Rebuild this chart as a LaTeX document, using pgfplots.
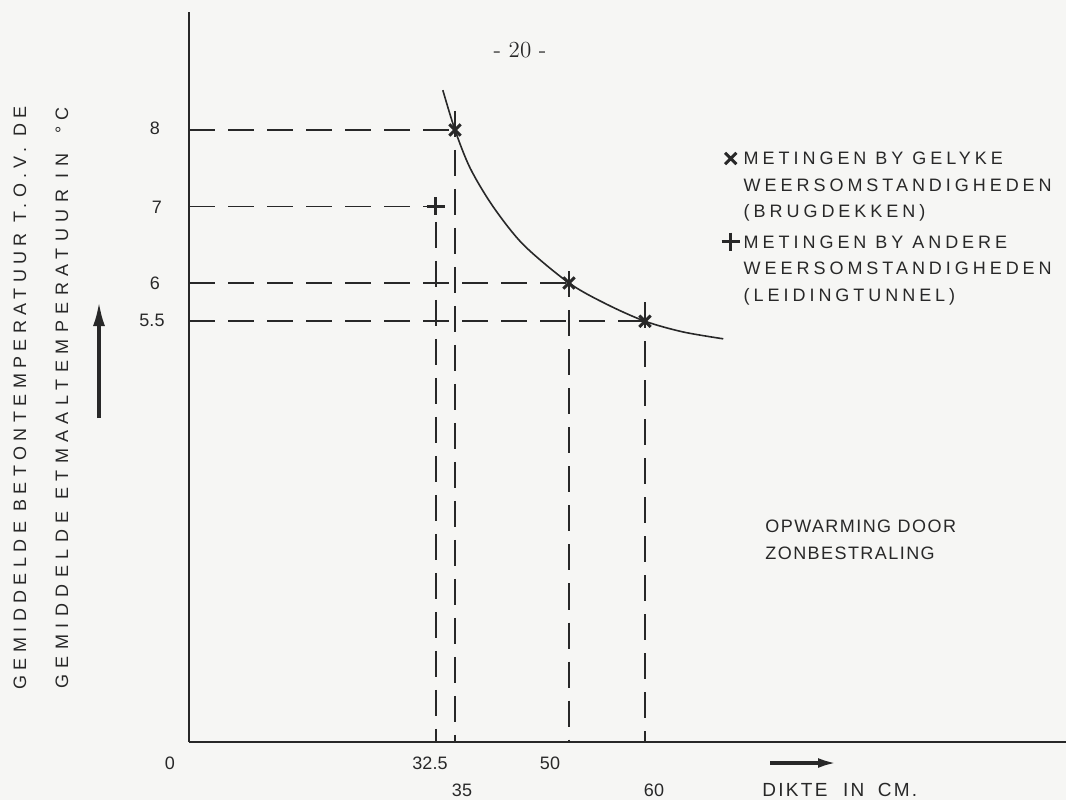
\documentclass[border=0pt]{standalone}
\usepackage{fontspec}
\usepackage{pgfplots}
\pgfplotsset{compat=1.18}
\usetikzlibrary{arrows.meta}
\newfontfamily\sansf{Liberation Sans}
\newfontfamily\labf[LetterSpace=30]{Liberation Sans}
\newfontfamily\labg[LetterSpace=36]{Liberation Sans}
\newfontfamily\legf[LetterSpace=22]{Liberation Sans}
\newfontfamily\notef[LetterSpace=8]{Liberation Sans}
\newfontfamily\dikf[LetterSpace=12]{Liberation Sans}
\definecolor{ink}{RGB}{40,40,40}
\definecolor{paper}{RGB}{246,246,244}
\begin{document}
\begin{tikzpicture}
\fill[paper] (0pt,0pt) rectangle (533pt,400pt);
\path[use as bounding box] (0pt,0pt) rectangle (533pt,400pt);
\begin{axis}[
  at={(94.5pt,29pt)}, anchor=south west,
  scale only axis, width=438.5pt, height=365pt,
  xmin=0, xmax=115.4, ymin=0, ymax=9.542,
  axis x line=bottom, axis y line=left,
  axis line style={-, line width=0.9pt, ink},
  xtick=\empty, ytick=\empty, clip=false,
  legend style={at={(0.607,0.822)}, anchor=north west, draw=none, fill=none,
    font={\legf\fontsize{9}{13.25}\selectfont}, text=ink, row sep=0.3pt,
    cells={anchor=base west}, inner sep=0pt},
  legend image post style={yshift=29.7pt},
  dl/.style={ink, line width=0.8pt, dash pattern=on 13pt off 6.5pt},
]
\addplot[dl, forget plot] coordinates {(0,8) (35,8)};
\addplot[dl, forget plot] coordinates {(0,7) (31.8,7)};
\addplot[dl, forget plot] coordinates {(0,6) (50,6)};
\addplot[dl, forget plot] coordinates {(0,5.5) (60,5.5)};
\addplot[dl, forget plot] coordinates {(32.5,6.8) (32.5,0)};
\addplot[dl, forget plot] coordinates {(35,8.25) (35,0)};
\addplot[dl, forget plot] coordinates {(50,6.15) (50,0)};
\addplot[dl, forget plot] coordinates {(60,5.75) (60,0)};
\addplot[ink, line width=0.8pt, smooth, forget plot] coordinates {
 (33.4,8.52) (35,8.0) (37,7.5) (40,7.0) (44,6.5) (50,6.0) (55,5.72) (60,5.5) (65,5.36) (70.3,5.27)};
\addplot[only marks, mark=x, mark size=4pt, ink, line width=1.5pt] coordinates {(35,8) (50,6) (60,5.5)};
\addlegendentry{\begin{tabular}[b]{@{}l@{}}METINGEN BY GELYKE\\WEERSOMSTANDIGHEDEN\\(BRUGDEKKEN)\end{tabular}}
\addplot[only marks, mark=+, mark size=4.5pt, ink, line width=1.5pt] coordinates {(32.5,7)};
\addlegendentry{\begin{tabular}[b]{@{}l@{}}METINGEN BY ANDERE\\WEERSOMSTANDIGHEDEN\\(LEIDINGTUNNEL)\end{tabular}}
\end{axis}
% page number
\node[ink, font=\fontsize{11.5}{14}\selectfont] at (260pt,375pt) {- 20 -};
% y label
\node[ink, rotate=90, font={\labf\fontsize{9}{10}\selectfont}] at (10pt,201pt) {GEMIDDELDE BETONTEMPERATUUR T.O.V. DE};
\node[ink, rotate=90, font={\labg\fontsize{9}{10}\selectfont}] at (31pt,201pt) {GEMIDDELDE ETMAALTEMPERATUUR IN\hspace{10pt}°C};
\draw[ink, line width=1.6pt, -{Latex[length=12pt,width=6pt]}] (49.5pt,191pt) -- (49.5pt,249pt);
% y tick labels
\begin{scope}[every node/.style={ink, font={\sansf\fontsize{9}{10}\selectfont}}]
\node at (77.5pt,336pt) {8};
\node at (78.5pt,296.5pt) {7};
\node at (77.5pt,258.5pt) {6};
\node at (76pt,240pt) {5.5};
\node at (85pt,18.5pt) {0};
\node at (215pt,18.5pt) {32.5};
\node at (275pt,18.5pt) {50};
\node at (231pt,5pt) {35};
\node at (327pt,5pt) {60};
\end{scope}
\draw[ink, line width=1.6pt, -{Latex[length=9pt,width=5pt]}] (385pt,18.5pt) -- (418pt,18.5pt);
\node[ink, anchor=west, inner sep=0pt, font={\dikf\fontsize{9.5}{11}\selectfont}] at (381pt,5pt) {DIKTE\hspace{4pt} IN\hspace{3pt} CM.};
\node[ink, anchor=base west, inner sep=0pt, align=left, font={\notef\fontsize{9}{13.5}\selectfont}] at (382.5pt,120.5pt) {OPWARMING DOOR\\ZONBESTRALING};
\end{tikzpicture}
\end{document}
